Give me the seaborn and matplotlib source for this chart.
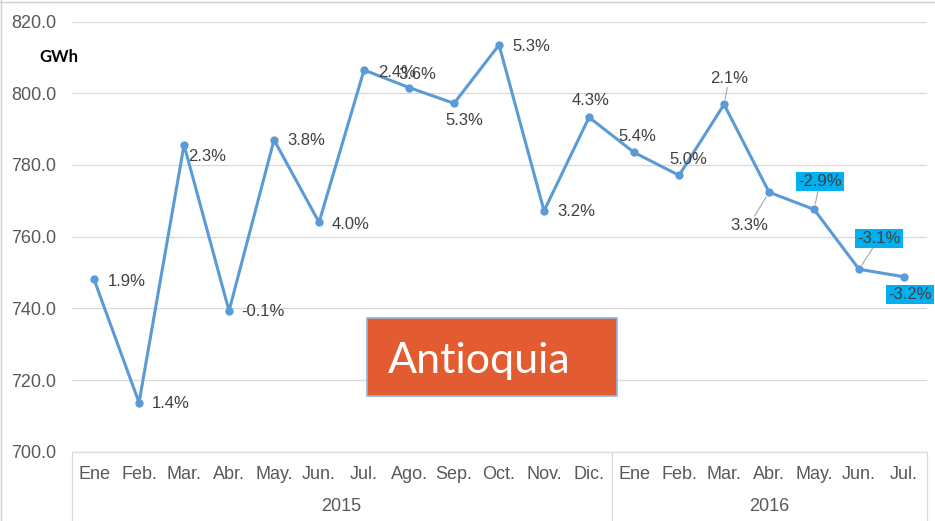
import matplotlib
matplotlib.use("Agg")
import matplotlib.pyplot as plt
import seaborn as sns
import pandas as pd
from matplotlib.patches import Rectangle
from matplotlib.lines import Line2D

# Monthly electricity demand, Antioquia (GWh) and year-over-year growth
months = ["Ene", "Feb.", "Mar.", "Abr.", "May.", "Jun.", "Jul.", "Ago.", "Sep.", "Oct.", "Nov.", "Dic.",
          "Ene", "Feb.", "Mar.", "Abr.", "May.", "Jun.", "Jul."]
years = ["2015", "2016"]
year_spans = [(0, 11), (12, 18)]
demand_gwh = [748.1, 713.7, 785.6, 739.3, 787.0, 764.0, 806.5, 801.6, 797.2, 813.5, 767.2, 793.3,
              783.5, 777.1, 796.9, 772.4, 767.6, 750.9, 748.8]
growth_labels = ["1.9%", "1.4%", "2.3%", "-0.1%", "3.8%", "4.0%", "2.4%", "3.6%", "5.3%", "5.3%",
                 "3.2%", "4.3%", "5.4%", "5.0%", "2.1%", "3.3%", "-2.9%", "-3.1%", "-3.2%"]
y_ticks = [700, 720, 740, 760, 780, 800, 820]

df = pd.DataFrame({"idx": range(len(months)), "gwh": demand_gwh})

sns.set_theme(style="white")
plt.rcParams["font.family"] = ["Liberation Sans", "DejaVu Sans"]

fig = plt.figure(figsize=(9.35, 5.21), dpi=100)
ax = fig.add_axes([0.0765, 0.133, 0.9145, 0.8255])

line_blue = "#5B9BD5"
sns.lineplot(data=df, x="idx", y="gwh", ax=ax, color=line_blue, linewidth=2.2,
             marker="o", markersize=6, markeredgewidth=0, zorder=3)

ax.set_xlim(-0.5, 18.5)
ax.set_ylim(700, 820)
ax.set_yticks(y_ticks)
ax.set_yticklabels([f"{t:.1f}" for t in y_ticks], fontsize=13, color="#595959")
ax.tick_params(axis="y", length=0, pad=11)
ax.set_xticks(range(len(months)))
ax.set_xticklabels(months, fontsize=13, color="#595959")
ax.tick_params(axis="x", length=0, pad=10)
ax.set_xlabel("")
ax.set_ylabel("")
ax.grid(axis="y", color="#D9D9D9", linewidth=0.9)
for s in ["left", "right", "top"]:
    ax.spines[s].set_visible(False)
ax.spines["bottom"].set_color("#D9D9D9")
ax.spines["bottom"].set_linewidth(0.9)

# Year groups under the month labels
xt = ax.get_xaxis_transform()
for (a, b), yr in zip(year_spans, years):
    ax.text((a + b) / 2, -0.128, yr, transform=xt, ha="center", va="center",
            fontsize=13, color="#595959")
for xd in [-0.5, 11.5, 18.5]:
    ax.add_line(Line2D([xd, xd], [0, -0.165], transform=xt, color="#D9D9D9",
                       linewidth=0.9, clip_on=False))

# Data labels: offsets in pixels, whether boxed, whether leader line
offsets = [(33, -2), (32, -1), (23, -12), (34, -1), (32, -1), (32, -2), (33, -2), (8, 13),
           (10, -17), (32, -2), (32, -1), (2, 17), (3, 16), (9, 16), (5, 26), (-20, -33),
           (6, 28), (20, 31), (6, -18)]
leader = [False] * 14 + [True, True, True, True, False]
text_gray = "#404040"
for i, (val, lab) in enumerate(zip(demand_gwh, growth_labels)):
    boxed = lab.startswith("-") and i >= 16
    bbox = dict(boxstyle="square,pad=0.12", fc="#00B0F0", ec="none") if boxed else \
        dict(boxstyle="square,pad=0.1", fc="none", ec="none")
    arrow = dict(arrowstyle="-", color="#A6A6A6", lw=0.8, shrinkA=0, shrinkB=4) if leader[i] else None
    ax.annotate(lab, xy=(i, val), xytext=offsets[i], textcoords="offset pixels",
                ha="center", va="center", fontsize=12, color=text_gray,
                bbox=bbox, arrowprops=arrow, zorder=4, annotation_clip=False)

# Unit label
fig.text(59 / 935, 1 - 57 / 521, "GWh", ha="center", va="center", fontsize=12,
         fontweight="bold", color="black", family=["Lato", "DejaVu Sans"])

# Region title box
ax.add_patch(Rectangle((0.345, 0.1295), 0.2925, 0.1805, transform=ax.transAxes,
                       facecolor="#E35B30", edgecolor="#8DB4E2", linewidth=1.2, zorder=5))
ax.text(0.370, 0.182, "Antioquia", transform=ax.transAxes, ha="left", va="baseline",
        fontsize=31, color="white", family=["Lato", "DejaVu Sans"], zorder=6)

# Light outer frame
fig.add_artist(Line2D([0, 1], [0.997, 0.997], transform=fig.transFigure, color="#D0D0D0", lw=1))
fig.add_artist(Line2D([0.001, 0.001], [0, 1], transform=fig.transFigure, color="#D0D0D0", lw=1))

fig.savefig("out.png", dpi=100)
